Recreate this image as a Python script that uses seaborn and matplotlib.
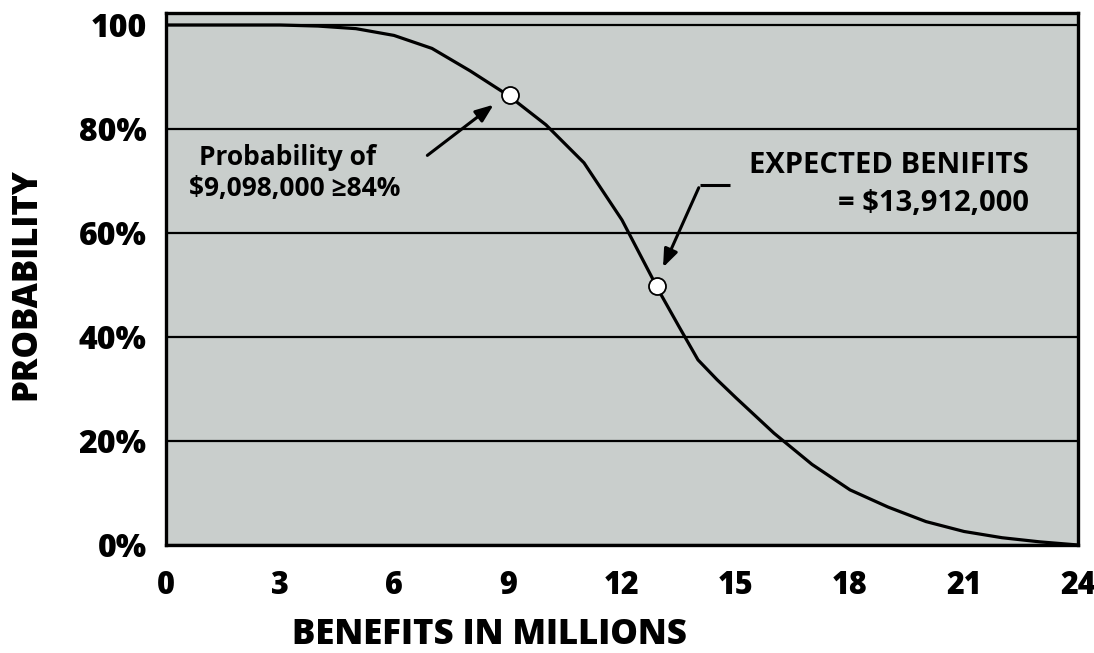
import matplotlib
matplotlib.use("Agg")
import matplotlib.pyplot as plt
import seaborn as sns
import pandas as pd

# Benefit level (millions of dollars) and probability of reaching at least that level (%)
benefits = [0, 1, 2, 3, 4, 5, 6, 7, 8, 9, 10, 11, 12, 13, 13.5, 14, 14.5, 15, 16, 17, 18,
            19, 20, 21, 22, 23, 24]
probability = [100, 100, 100, 100, 99.8, 99.3, 98.0, 95.5, 91.2, 86.5, 80.8, 73.5, 62.5,
               48.5, 42.0, 35.6, 31.8, 28.3, 21.5, 15.5, 10.6, 7.3, 4.5, 2.6, 1.4, 0.6, 0]

# Highlighted points on the curve
marker_benefits = [9.05, 12.92]
marker_probability = [86.6, 49.8]

x_ticks = [0, 3, 6, 9, 12, 15, 18, 21, 24]
y_ticks = [0, 20, 40, 60, 80, 100]
y_tick_labels = ["0%", "20%", "40%", "60%", "80%", "100"]

sns.set_theme(style="white")
plt.rcParams["font.family"] = ["Open Sans", "DejaVu Sans"]
plt.rcParams["font.weight"] = "bold"
plt.rcParams["text.color"] = "black"
plt.rcParams["axes.labelcolor"] = "black"
plt.rcParams["xtick.color"] = "black"
plt.rcParams["ytick.color"] = "black"

curve = pd.DataFrame({"benefits": benefits, "probability": probability})
points = pd.DataFrame({"benefits": marker_benefits, "probability": marker_probability})

fig = plt.figure(figsize=(10.94, 6.53), dpi=100)
ax = fig.add_axes([0.1517, 0.1654, 0.8337, 0.8146])
ax.set_facecolor("#c9cecc")

for y in y_ticks:
    ax.axhline(y, color="black", lw=1.6, zorder=1)

sns.lineplot(data=curve, x="benefits", y="probability", ax=ax, color="black", lw=2.3, zorder=3)
sns.scatterplot(data=points, x="benefits", y="probability", ax=ax, s=150, color="white",
                edgecolor="black", linewidth=1.3, zorder=5)

ax.set_xlim(0, 24)
ax.set_ylim(0, 102.3)
ax.set_xticks(x_ticks)
ax.set_xticklabels([str(t) for t in x_ticks], fontsize=22, fontweight="heavy")
ax.set_yticks(y_ticks)
ax.set_yticklabels(y_tick_labels, fontsize=23, fontweight="heavy")
ax.tick_params(axis="x", direction="out", length=14, width=2, color="black", pad=4)
ax.tick_params(axis="y", length=0, pad=14)

for spine in ax.spines.values():
    spine.set_color("black")
    spine.set_linewidth(2.4)

ax.set_xlabel("BENEFITS IN MILLIONS", fontsize=25, fontweight="heavy")
ax.xaxis.set_label_coords(0.355, -0.135)
ax.set_ylabel("PROBABILITY", fontsize=25, fontweight="heavy")
ax.yaxis.set_label_coords(-0.133, 0.49)

# Annotation for the lower-confidence benefit level
ax.text(3.2, 74.6, "Probability of", fontsize=19, fontweight="bold", ha="center", va="center")
ax.text(3.4, 68.6, "$9,098,000 \u226584%", fontsize=19, fontweight="bold", ha="center", va="center")
ax.annotate("", xy=(8.68, 85.0), xytext=(6.82, 74.6),
            arrowprops=dict(arrowstyle="-|>,head_length=0.9,head_width=0.35", color="black", lw=2.2))

# Annotation for the expected value
ax.text(22.7, 72.9, "EXPECTED BENIFITS", fontsize=21, fontweight="bold", ha="right", va="center")
ax.text(22.7, 65.6, "= $13,912,000", fontsize=21, fontweight="bold", ha="right", va="center")
ax.plot([14.05, 14.84], [69.2, 69.2], color="black", lw=2.2, solid_capstyle="butt")
ax.annotate("", xy=(13.05, 52.9), xytext=(14.05, 69.2),
            arrowprops=dict(arrowstyle="-|>,head_length=0.9,head_width=0.35", color="black", lw=2.2))

fig.savefig("out.png", dpi=100)
